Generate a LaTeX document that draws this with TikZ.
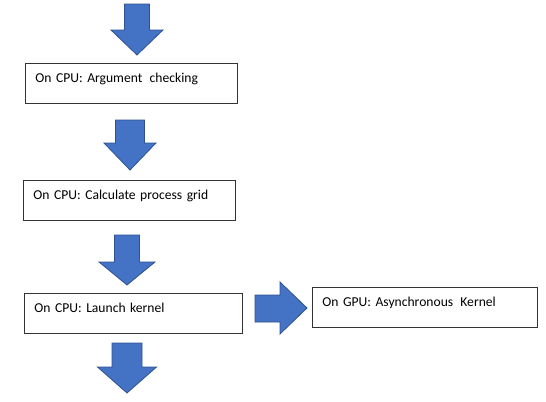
\documentclass[tikz,border=0pt]{standalone}
\usepackage{fontspec}
\setmainfont{Carlito}
\definecolor{arrowblue}{HTML}{4472C4}
\definecolor{arrowedge}{HTML}{2F528F}
\tikzset{
  stepbox/.style={draw=black!80, line width=0.6pt, anchor=north west, align=left,
    inner xsep=7.5pt, inner ysep=0pt, text height=14.25pt, text depth=15.75pt,
    font=\fontsize{10.2}{12}\selectfont},
  blockarrow/.style={fill=arrowblue, draw=arrowedge, line width=0.6pt, line join=miter}
}
\begin{document}
\begin{tikzpicture}[x=0.75pt,y=-0.75pt]
   \useasboundingbox (0,0) rectangle (546,401);
   % boxes
   \node[stepbox, text width=144pt] (argcheck) at (25,63) {On CPU: Argument\hspace{2pt} checking};
   \node[stepbox, text width=144pt] (procgrid) at (23,180) {On CPU: Calculate process grid};
   \node[stepbox, text width=148.5pt] (launch) at (24,293) {On CPU: Launch kernel};
   \node[stepbox, text width=153.75pt] (gpukernel) at (312,287) {On GPU: Asynchronous\hspace{2pt} Kernel};
   % downward block arrows
   \foreach \cx/\top/\hs/\tip/\sw/\hw in {137/4/30/55/12.5/26, 130/120/143/170/14.5/26,
                                           127/235/262/285/12.5/28, 127/343/367/393/15/29.5}
     \draw[blockarrow] (\cx-\sw,\top) -- (\cx+\sw,\top) -- (\cx+\sw,\hs) -- (\cx+\hw,\hs)
        -- (\cx,\tip) -- (\cx-\hw,\hs) -- (\cx-\sw,\hs) -- cycle;
   % arrow to the GPU
   \draw[blockarrow] (255,295) -- (280,295) -- (280,282) -- (307,308) -- (280,334)
      -- (280,322) -- (255,322) -- cycle;
\end{tikzpicture}
\end{document}
